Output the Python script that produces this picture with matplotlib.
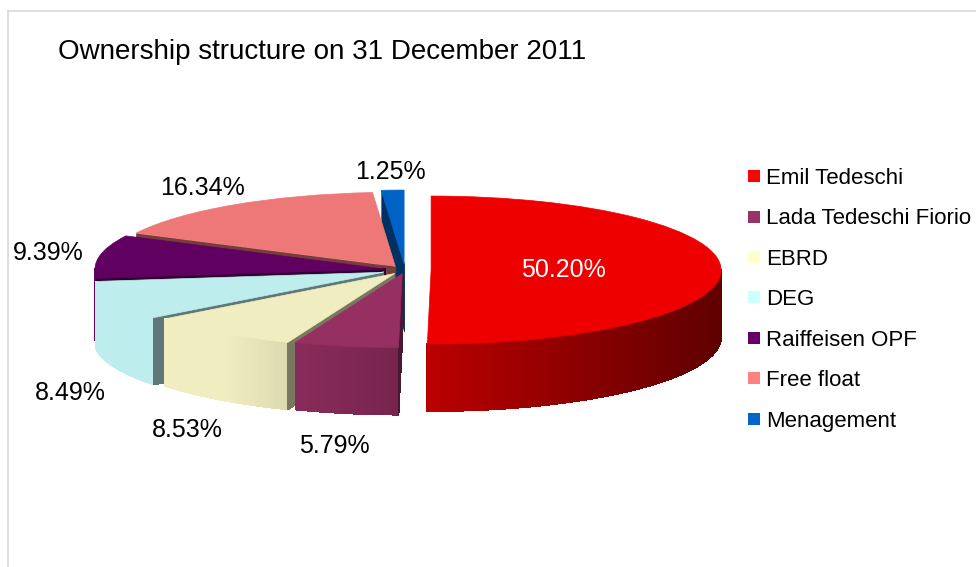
import numpy as np
import matplotlib
matplotlib.use('Agg')
import matplotlib.pyplot as plt
import matplotlib.colors as mcolors
from matplotlib.patches import Patch
from matplotlib.collections import PolyCollection
from matplotlib.lines import Line2D

plt.rcParams['font.family'] = ['Liberation Sans', 'DejaVu Sans']

# ---------------- data ----------------
title = 'Ownership structure on 31 December 2011'
categories = ['Emil Tedeschi', 'Lada Tedeschi Fiorio', 'EBRD', 'DEG',
              'Raiffeisen OPF', 'Free float', 'Menagement']
shares = [50.20, 5.79, 8.53, 8.49, 9.39, 16.34, 1.25]

# ---------------- style ----------------
legend_colors = ['#FF0000', '#993366', '#FFFFCC', '#CCFFFF', '#660066', '#FF8080', '#0066CC']
top_colors = ['#EE0000', '#962F62', '#F0EDC0', '#BDEDED', '#600060', '#EE7777', '#0062C4']
explode = [0.09, 0.05, 0.06, 0.08, 0.07, 0.06, 0.08]

W, H = 976, 567
fig = plt.figure(figsize=(W / 100, H / 100), dpi=100)
fig.patch.set_facecolor('white')

# chart frame (light grey border, partially outside the image)
fig.add_artist(Line2D([8 / W, 8 / W], [0, 1 - 11 / H], color='#D9D9D9', lw=1.2,
                      transform=fig.transFigure))
fig.add_artist(Line2D([8 / W, 1], [1 - 11 / H, 1 - 11 / H], color='#D9D9D9', lw=1.2,
                      transform=fig.transFigure))

ax = fig.add_axes([0, 0, 1, 1])
A, B = 290.0, 74.0          # pixels per data unit (ellipse semi-axes)
CX, CY = 405.0, 270.0       # pie centre in pixels from top-left
DEPTH = 67.0 / B            # thickness of the pie in data units

wedges, _ = ax.pie(shares, colors=top_colors, startangle=90, counterclock=False,
                   explode=explode, radius=1.0, wedgeprops=dict(linewidth=0.5))
for w in wedges:
    w.set_edgecolor(w.get_facecolor())
ax.set_aspect('auto')
ax.set_xlim(-CX / A, (W - CX) / A)
ax.set_ylim(-(H - CY) / B, CY / B)
ax.axis('off')


def shade(c, f):
    r, g, b = mcolors.to_rgb(c)
    return (min(r * f, 1.0), min(g * f, 1.0), min(b * f, 1.0))


mids = [np.deg2rad((w.theta1 + w.theta2) / 2) for w in wedges]
order = np.argsort([-np.sin(m) for m in mids])
for rank, i in enumerate(order):
    w = wedges[i]
    cx, cy = w.center
    t1, t2 = w.theta1, w.theta2
    polys, cols = [], []
    n = max(int(abs(t2 - t1) * 2), 2)
    ts = np.linspace(t1, t2, n + 1)
    for a0, a1 in zip(ts[:-1], ts[1:]):
        am = np.deg2rad((a0 + a1) / 2)
        if np.sin(am) >= 0:
            continue
        r0, r1 = np.deg2rad(a0), np.deg2rad(a1)
        p0 = (cx + np.cos(r0), cy + np.sin(r0))
        p1 = (cx + np.cos(r1), cy + np.sin(r1))
        polys.append([p0, p1, (p1[0], p1[1] - DEPTH), (p0[0], p0[1] - DEPTH)])
        cols.append(shade(top_colors[i], float(np.clip(0.78 - 0.38 * np.cos(am), 0.3, 1.0))))
    for ang, vis in ((t1, np.cos(np.deg2rad(t1)) > 0), (t2, np.cos(np.deg2rad(t2)) < 0)):
        if vis:
            r = np.deg2rad(ang)
            p = (cx + np.cos(r), cy + np.sin(r))
            polys.append([(cx, cy), p, (p[0], p[1] - DEPTH), (cx, cy - DEPTH)])
            cols.append(shade(top_colors[i], 0.5))
    pc = PolyCollection(polys, facecolors=cols, edgecolors=cols, linewidths=0.6,
                        antialiaseds=False, zorder=10 + 2 * rank)
    ax.add_collection(pc)
    w.set_zorder(11 + 2 * rank)

# percentage labels
for i, w in enumerate(wedges):
    m = mids[i]
    txt = f'{shares[i]:.2f}%'
    if i == 0:
        cx, cy = w.center
        ax.text(cx + 0.455 * np.cos(m), cy + 0.455 * np.sin(m), txt, color='white',
                fontsize=18, ha='center', va='center', zorder=50)
    else:
        x = 1.25 * np.cos(m)
        s = np.sin(m)
        y = 1.33 * s if s >= 0 else 1.2 * s - 1.2
        ax.text(x, y, txt, color='black', fontsize=18, ha='center', va='center', zorder=50)

# title
fig.text(58 / W, 1 - 52 / H, title, fontsize=20, ha='left', va='center')

# legend
handles = [Patch(facecolor=c, edgecolor='none') for c in legend_colors]
fs = 16
fpx = fs * 100 / 72
fig.legend(handles, categories, loc='upper left',
           bbox_to_anchor=(748 / W, 1 - 168 / H), frameon=False, fontsize=fs,
           handlelength=12 / fpx, handleheight=10 / fpx, handletextpad=6 / fpx,
           labelspacing=0.875, borderpad=0, borderaxespad=0)

fig.savefig('out.png', dpi=100)
